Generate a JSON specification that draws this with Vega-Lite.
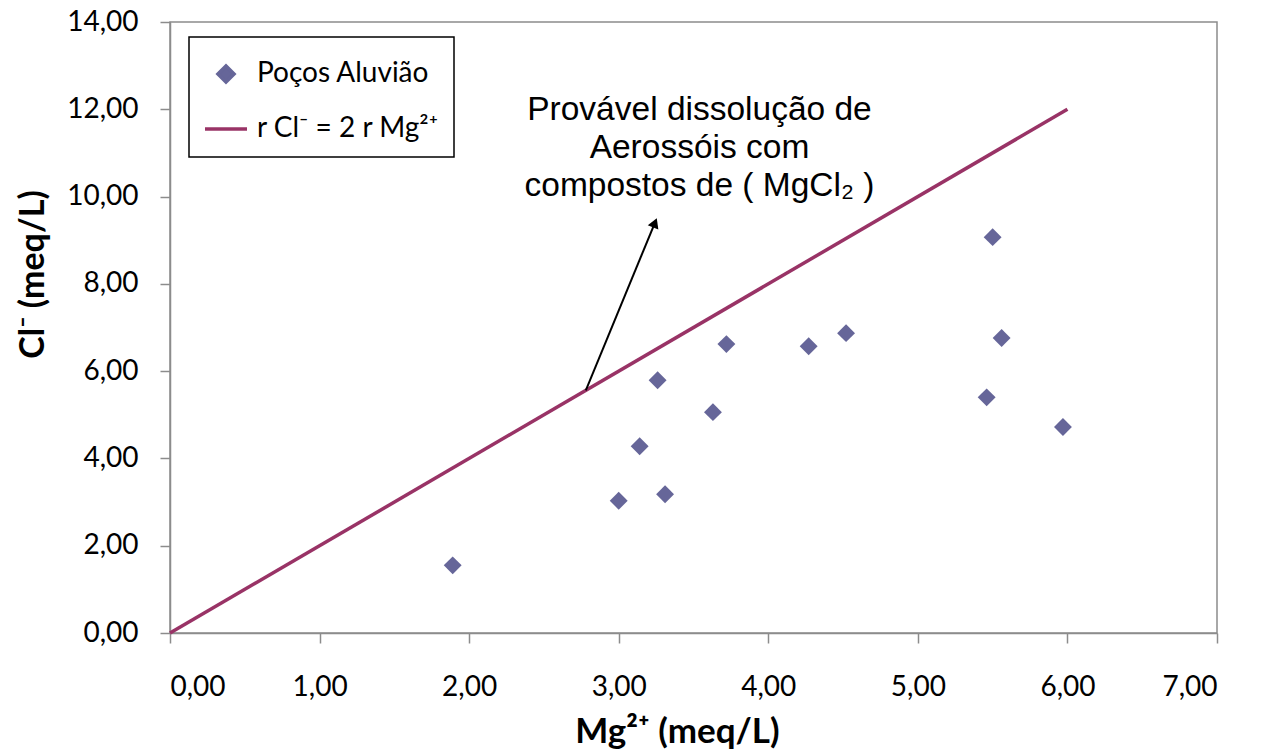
{
  "$schema": "https://vega.github.io/schema/vega-lite/v6.json",
  "width": 1047,
  "height": 611,
  "autosize": "none",
  "padding": {"left": 170, "top": 22, "right": 47, "bottom": 118},
  "background": "white",
  "config": {
    "view": {"stroke": "#8c8c8c", "strokeWidth": 1.5},
    "font": "Lato"
  },
  "datasets": {
    "pocos": [
      {"mg": 1.89, "cl": 1.55, "series": "Poços Aluvião"},
      {"mg": 3.00, "cl": 3.03, "series": "Poços Aluvião"},
      {"mg": 3.14, "cl": 4.28, "series": "Poços Aluvião"},
      {"mg": 3.31, "cl": 3.18, "series": "Poços Aluvião"},
      {"mg": 3.26, "cl": 5.79, "series": "Poços Aluvião"},
      {"mg": 3.63, "cl": 5.06, "series": "Poços Aluvião"},
      {"mg": 3.72, "cl": 6.62, "series": "Poços Aluvião"},
      {"mg": 4.27, "cl": 6.57, "series": "Poços Aluvião"},
      {"mg": 4.52, "cl": 6.87, "series": "Poços Aluvião"},
      {"mg": 5.50, "cl": 9.07, "series": "Poços Aluvião"},
      {"mg": 5.46, "cl": 5.40, "series": "Poços Aluvião"},
      {"mg": 5.56, "cl": 6.76, "series": "Poços Aluvião"},
      {"mg": 5.97, "cl": 4.72, "series": "Poços Aluvião"}
    ],
    "razao": [
      {"mg": 0, "cl": 0, "series": "r Cl⁻ = 2 r Mg²⁺"},
      {"mg": 6, "cl": 12, "series": "r Cl⁻ = 2 r Mg²⁺"}
    ]
  },
  "layer": [
    {
      "data": {"name": "razao"},
      "mark": {"type": "line", "strokeWidth": 3.5},
      "encoding": {
        "x": {
          "field": "mg", "type": "quantitative",
          "scale": {"domain": [0, 7], "nice": false, "zero": false},
          "axis": {
            "title": "Mg²⁺ (meq/L)",
            "values": [0, 1, 2, 3, 4, 5, 6, 7],
            "labelExpr": "replace(format(datum.value, '.2f'), '.', ',')",
            "grid": false,
            "domainColor": "#8c8c8c", "domainWidth": 1.5,
            "tickColor": "#8c8c8c", "tickWidth": 1.5, "tickSize": 10,
            "labelFont": "Lato", "labelFontSize": 28, "labelColor": "black",
            "labelPadding": 30,
            "titleFont": "Lato", "titleFontSize": 35, "titleFontWeight": "bold",
            "titleColor": "black", "titlePadding": 13, "titleX": 507
          }
        },
        "y": {
          "field": "cl", "type": "quantitative",
          "scale": {"domain": [0, 14], "nice": false, "zero": false},
          "axis": {
            "title": "Cl⁻ (meq/L)",
            "values": [0, 2, 4, 6, 8, 10, 12, 14],
            "labelExpr": "replace(format(datum.value, '.2f'), '.', ',')",
            "grid": false,
            "domainColor": "#8c8c8c", "domainWidth": 1.5,
            "tickColor": "#8c8c8c", "tickWidth": 1.5, "tickSize": 10,
            "labelFont": "Lato", "labelFontSize": 28, "labelColor": "black",
            "labelPadding": 22,
            "titleFont": "Lato", "titleFontSize": 34, "titleFontWeight": "bold",
            "titleColor": "black", "titlePadding": 16, "titleY": 252
          }
        },
        "color": {
          "field": "series", "type": "nominal",
          "scale": {
            "domain": ["Poços Aluvião", "r Cl⁻ = 2 r Mg²⁺"],
            "range": ["#666699", "#993366"]
          },
          "legend": {
            "orient": "none", "legendX": 19, "legendY": 15,
            "title": null,
            "strokeColor": "black",
            "fillColor": "white",
            "padding": 14,
            "labelFont": "Lato", "labelFontSize": 28, "labelColor": "black",
            "labelLimit": 500,
            "labelOffset": 8, "rowPadding": 16,
            "encode": {
              "legend": {
                "update": {"strokeWidth": {"value": 1.5}}
              },
              "symbols": {
                "update": {
                  "shape": {"signal": "datum.value === 'Poços Aluvião' ? 'diamond' : 'stroke'"},
                  "size": {"signal": "datum.value === 'Poços Aluvião' ? 260 : 1764"},
                  "fill": {"value": "#666699"},
                  "stroke": {"signal": "datum.value === 'Poços Aluvião' ? 'transparent' : '#993366'"},
                  "strokeWidth": {"value": 3.5},
                  "opacity": {"value": 1}
                }
              }
            }
          }
        }
      }
    },
    {
      "data": {"values": [{}]},
      "mark": {"type": "rule", "color": "black", "strokeWidth": 2},
      "encoding": {
        "x": {"datum": 2.78, "type": "quantitative"},
        "y": {"datum": 5.56, "type": "quantitative"},
        "x2": {"datum": 3.242},
        "y2": {"datum": 9.40}
      }
    },
    {
      "data": {"values": [{}]},
      "mark": {"type": "point", "shape": "triangle-up", "filled": true, "color": "black", "size": 130, "angle": 22, "opacity": 1},
      "encoding": {
        "x": {"datum": 3.242, "type": "quantitative"},
        "y": {"datum": 9.40, "type": "quantitative"}
      }
    },
    {
      "data": {"values": [{}]},
      "mark": {
        "type": "text", "font": "Liberation Sans", "fontSize": 33.5,
        "align": "center", "baseline": "top", "lineHeight": 38, "color": "black"
      },
      "encoding": {
        "x": {"datum": 3.54, "type": "quantitative"},
        "y": {"datum": 12.35, "type": "quantitative"},
        "text": {"value": ["Provável dissolução de", "Aerossóis com", "compostos de ( MgCl₂ )"]}
      }
    },
    {
      "data": {"name": "pocos"},
      "mark": {"type": "point", "shape": "diamond", "filled": true, "size": 320, "opacity": 1},
      "encoding": {
        "x": {"field": "mg", "type": "quantitative"},
        "y": {"field": "cl", "type": "quantitative"},
        "color": {"field": "series", "type": "nominal"}
      }
    }
  ]
}
